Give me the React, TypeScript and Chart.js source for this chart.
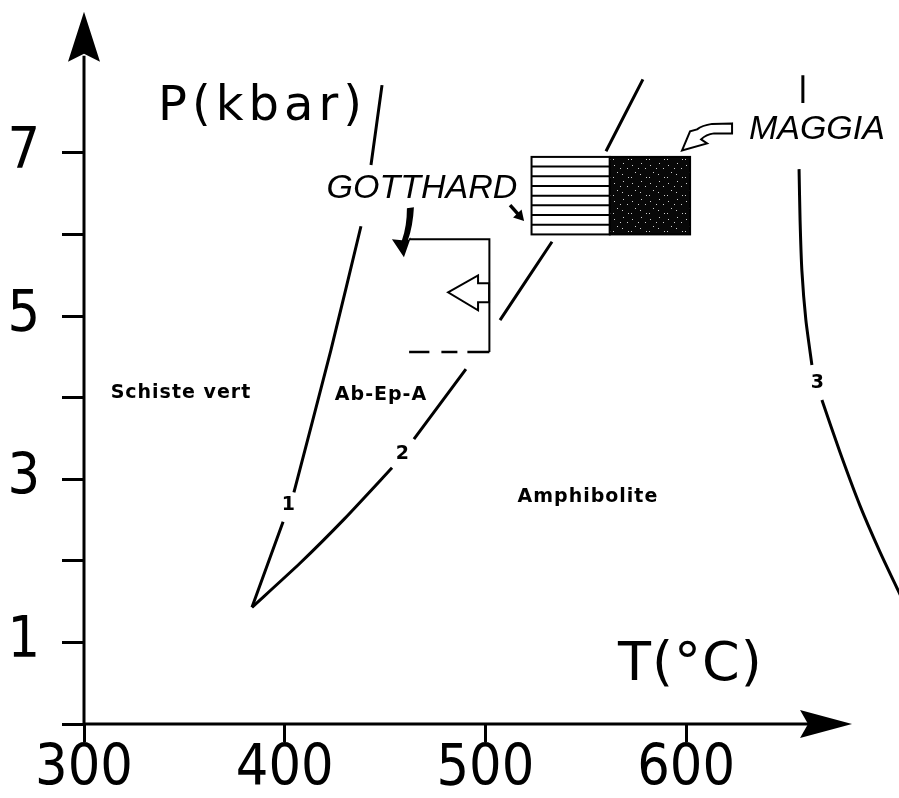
import React, { useEffect, useRef } from 'react';
import { Chart, registerables } from 'chart.js';

Chart.register(...registerables);

// ---- axes ----
const T_MIN = 300;
const T_MAX = 706.1;
const P_MIN = 0;
const P_MAX = 8.873;
const T_AXIS_END = 682.7; // arrow tip of the T axis
const P_AXIS_END = 8.73; // arrow tip of the P axis
const xTickValues = [300, 400, 500, 600];
const yTickValues = [0, 1, 2, 3, 4, 5, 6, 7];
const yLabelledTicks = [1, 3, 5, 7];

// ---- reaction curves [T (°C), P (kbar)], null = gap for a label ----
const curve1 = [[383.7, 1.43], [399.2, 2.48], null, [404.6, 2.84], [423.0, 4.58], [438.0, 6.10], null, [443.0, 6.85], [448.5, 7.83]];
const curve2 = [[383.7, 1.43], [407.6, 1.97], [430.0, 2.52], [453.5, 3.14], null, [464.4, 3.49], [490.3, 4.35], null, [507.3, 4.95], [533.2, 5.91], null, [560.1, 7.02], [578.5, 7.90]];
const curve3 = [[658.2, 7.95], [658.2, 7.61], null, [656.3, 6.80], [656.8, 6.18], [657.7, 5.56], [659.7, 4.95], [662.7, 4.40], null, [667.7, 3.97], [676.7, 3.33], [686.6, 2.68], [696.6, 2.11], [705.6, 1.64], [709.1, 1.46]];

// ---- P-T boxes ----
const gotthardBoxT = [523, 562];
const maggiaBoxT = [562, 602];
const boxP = [6.0, 6.95];
const gotthardPathT = [462, 502];
const gotthardPathP = [4.56, 5.94];

// ---- labels ----
const regionLabels = ['Schiste vert', 'Ab-Ep-A', 'Amphibolite'];
const regionLabelT = [348.3, 448.0, 551.1];
const regionLabelP = [4.06, 4.03, 2.78];
const curveNumbers = ['1', '2', '3'];
const curveNumberT = [402.1, 458.9, 665.7];
const curveNumberP = [2.68, 3.31, 4.18];
const placeNames = ['GOTTHARD', 'MAGGIA'];
const placeNameT = [468.4, 665.2];
const placeNameP = [6.56, 7.29];
const axisTitles = ['P(kbar)', 'T(°C)'];
const axisTitleT = [336.9, 566.1];
const axisTitleP = [7.40, 0.54];

// ---- arrow anchors [T, P] ----
const gotthardCurvedArrow = [462.4, 6.32];
const gotthardSmallArrow = [512.3, 6.36];
const gotthardShiftArrow = [481.4, 5.29];
const maggiaArrow = [598.0, 7.03];

const toPoints = (arr) => arr.map((p) => (p ? { x: p[0], y: p[1] } : { x: NaN, y: NaN }));

function makeSpecklePattern(ctx) {
  const c = document.createElement('canvas');
  c.width = 18;
  c.height = 18;
  const g = c.getContext('2d');
  g.fillStyle = '#080808';
  g.fillRect(0, 0, 18, 18);
  g.fillStyle = '#d0d0d0';
  const dots = [[2, 3], [11, 1], [15, 6], [5, 10], [10, 12], [16, 15], [1, 15], [8, 6]];
  dots.forEach(([x, y]) => g.fillRect(x, y, 1, 1));
  return ctx.createPattern(c, 'repeat');
}

const decorPlugin = {
  id: 'decor',
  afterDatasetsDraw(chart) {
    const ctx = chart.ctx;
    const xs = chart.scales.x;
    const ys = chart.scales.y;
    const X = (t) => xs.getPixelForValue(t);
    const Y = (p) => ys.getPixelForValue(p);
    ctx.save();
    ctx.strokeStyle = '#000';
    ctx.fillStyle = '#000';
    ctx.lineJoin = 'miter';

    // axes with arrows
    const x0 = X(T_MIN);
    const y0 = Y(P_MIN);
    const yTop = Y(P_AXIS_END);
    const xEnd = X(T_AXIS_END);
    ctx.lineWidth = 3;
    ctx.beginPath();
    ctx.moveTo(x0, y0 + 1);
    ctx.lineTo(x0, yTop + 44);
    ctx.stroke();
    ctx.beginPath();
    ctx.moveTo(x0, yTop);
    ctx.lineTo(x0 + 16, yTop + 50);
    ctx.lineTo(x0, yTop + 42);
    ctx.lineTo(x0 - 16, yTop + 50);
    ctx.closePath();
    ctx.fill();
    ctx.beginPath();
    ctx.moveTo(x0 - 1, y0);
    ctx.lineTo(xEnd - 44, y0);
    ctx.stroke();
    ctx.beginPath();
    ctx.moveTo(xEnd, y0);
    ctx.lineTo(xEnd - 52, y0 - 14);
    ctx.lineTo(xEnd - 44, y0);
    ctx.lineTo(xEnd - 52, y0 + 14);
    ctx.closePath();
    ctx.fill();

    // Gotthard hatched box
    const gx1 = X(gotthardBoxT[0]);
    const gx2 = X(gotthardBoxT[1]);
    const by1 = Y(boxP[1]);
    const by2 = Y(boxP[0]);
    ctx.fillStyle = '#fff';
    ctx.fillRect(gx1, by1, gx2 - gx1, by2 - by1);
    ctx.lineWidth = 2;
    ctx.strokeStyle = '#000';
    for (let k = 1; k < 8; k++) {
      const yy = by1 + (k * (by2 - by1)) / 8;
      ctx.beginPath();
      ctx.moveTo(gx1, yy);
      ctx.lineTo(gx2, yy);
      ctx.stroke();
    }
    ctx.strokeRect(gx1, by1, gx2 - gx1, by2 - by1);

    // Maggia speckled box
    const mx1 = X(maggiaBoxT[0]);
    const mx2 = X(maggiaBoxT[1]);
    ctx.fillStyle = makeSpecklePattern(ctx) || '#111';
    ctx.fillRect(mx1, by1, mx2 - mx1, by2 - by1);
    ctx.strokeRect(mx1, by1, mx2 - mx1, by2 - by1);
    ctx.fillStyle = '#000';

    // Gotthard retrograde path (open box, dashed bottom)
    const px1 = X(gotthardPathT[0]);
    const px2 = X(gotthardPathT[1]);
    const py1 = Y(gotthardPathP[1]);
    const py2 = Y(gotthardPathP[0]);
    ctx.lineWidth = 2;
    ctx.beginPath();
    ctx.moveTo(px1, py1);
    ctx.lineTo(px2, py1);
    ctx.lineTo(px2, py2);
    ctx.stroke();
    ctx.lineWidth = 2.5;
    ctx.setLineDash([22, 10, 16, 12]);
    ctx.beginPath();
    ctx.moveTo(px2, py2);
    ctx.lineTo(px1, py2);
    ctx.stroke();
    ctx.setLineDash([]);

    // hollow left arrow inside the path box
    {
      const ax = X(gotthardShiftArrow[0]);
      const ay = Y(gotthardShiftArrow[1]);
      const pts = [[0, 0], [30, -17], [30, -9], [41, -9], [41, 10], [30, 10], [30, 18]];
      ctx.beginPath();
      pts.forEach(([dx, dy], i) => (i ? ctx.lineTo(ax + dx, ay + dy) : ctx.moveTo(ax + dx, ay + dy)));
      ctx.closePath();
      ctx.fillStyle = '#fff';
      ctx.fill();
      ctx.lineWidth = 2;
      ctx.stroke();
      ctx.fillStyle = '#000';
    }

    // curved black arrow below GOTTHARD
    {
      const ax = X(gotthardCurvedArrow[0]);
      const ay = Y(gotthardCurvedArrow[1]);
      ctx.beginPath();
      ctx.moveTo(ax - 3, ay);
      ctx.lineTo(ax + 4, ay - 1);
      ctx.quadraticCurveTo(ax + 3, ay + 18, ax - 2, ay + 32);
      ctx.lineTo(ax + 1, ay + 29);
      ctx.lineTo(ax - 6, ay + 49);
      ctx.lineTo(ax - 18, ay + 31);
      ctx.lineTo(ax - 8, ay + 32);
      ctx.quadraticCurveTo(ax - 3, ay + 18, ax - 3, ay);
      ctx.closePath();
      ctx.fill();
    }

    // small arrow pointing to the hatched box
    {
      const sx = X(gotthardSmallArrow[0]);
      const sy = Y(gotthardSmallArrow[1]);
      ctx.lineWidth = 3.5;
      ctx.beginPath();
      ctx.moveTo(sx, sy);
      ctx.lineTo(sx + 8, sy + 9);
      ctx.stroke();
      ctx.beginPath();
      ctx.moveTo(sx + 14, sy + 16);
      ctx.lineTo(sx + 3, sy + 12.5);
      ctx.lineTo(sx + 11.5, sy + 4.5);
      ctx.closePath();
      ctx.fill();
    }

    // hollow curved arrow from MAGGIA
    {
      const ax = X(maggiaArrow[0]);
      const ay = Y(maggiaArrow[1]);
      ctx.lineWidth = 2;
      ctx.beginPath();
      ctx.moveTo(ax + 50, ay - 27);
      ctx.lineTo(ax + 30, ay - 26.5);
      ctx.quadraticCurveTo(ax + 20, ay - 25, ax + 15, ay - 21);
      ctx.lineTo(ax + 8, ay - 19);
      ctx.lineTo(ax, ay);
      ctx.lineTo(ax + 25, ay - 7);
      ctx.lineTo(ax + 19, ay - 11);
      ctx.quadraticCurveTo(ax + 24, ay - 16, ax + 32, ay - 17);
      ctx.lineTo(ax + 50, ay - 17);
      ctx.closePath();
      ctx.fillStyle = '#fff';
      ctx.fill();
      ctx.stroke();
      ctx.fillStyle = '#000';
    }

    // texts
    ctx.textAlign = 'center';
    ctx.textBaseline = 'middle';
    ctx.font = 'bold 19px "DejaVu Sans"';
    ctx.letterSpacing = '1px';
    regionLabels.forEach((s, i) => ctx.fillText(s, X(regionLabelT[i]), Y(regionLabelP[i])));
    curveNumbers.forEach((s, i) => ctx.fillText(s, X(curveNumberT[i]), Y(curveNumberP[i])));

    ctx.letterSpacing = '0px';
    ctx.font = 'italic 34px "Liberation Sans"';
    placeNames.forEach((s, i) => ctx.fillText(s, X(placeNameT[i]), Y(placeNameP[i])));

    ctx.textAlign = 'left';
    ctx.textBaseline = 'alphabetic';
    ctx.font = '48px "DejaVu Sans"';
    ctx.letterSpacing = '5px';
    ctx.fillText(axisTitles[0], X(axisTitleT[0]), Y(axisTitleP[0]));
    ctx.font = '54px "DejaVu Sans"';
    ctx.letterSpacing = '1px';
    ctx.fillText(axisTitles[1], X(axisTitleT[1]), Y(axisTitleP[1]));
    ctx.restore();
  },
};

const curveStyle = {
  showLine: true,
  borderColor: '#000',
  borderWidth: 3,
  pointRadius: 0,
  spanGaps: false,
  tension: 0.2,
  fill: false,
};

const tickFont = { family: '"Liberation Sans Narrow", "DejaVu Sans Condensed", sans-serif', size: 57, lineHeight: 1 };

export default function App() {
  const ref = useRef(null);
  useEffect(() => {
    document.body.style.margin = '0';
    const chart = new Chart(ref.current, {
      type: 'scatter',
      data: {
        datasets: [
          { label: 'curve 1', data: toPoints(curve1), ...curveStyle },
          { label: 'curve 2', data: toPoints(curve2), ...curveStyle },
          { label: 'curve 3', data: toPoints(curve3), ...curveStyle },
        ],
      },
      options: {
        responsive: false,
        animation: false,
        events: [],
        layout: { padding: 0 },
        plugins: { legend: { display: false }, tooltip: { enabled: false }, title: { display: false } },
        scales: {
          x: {
            type: 'linear',
            min: T_MIN,
            max: T_MAX,
            border: { display: false },
            grid: { display: true, drawOnChartArea: false, drawTicks: true, tickLength: 18, tickWidth: 3, tickColor: '#000' },
            ticks: { color: '#000', font: tickFont, padding: 0, maxRotation: 0, autoSkip: false, callback: (v) => String(v) },
            afterBuildTicks: (s) => { s.ticks = xTickValues.map((v) => ({ value: v })); },
            afterFit: (s) => { s.height = 74; s.paddingLeft = 0; s.paddingRight = 0; },
          },
          y: {
            type: 'linear',
            min: P_MIN,
            max: P_MAX,
            border: { display: false },
            grid: { display: true, drawOnChartArea: false, drawTicks: true, tickLength: 22, tickWidth: 3, tickColor: '#000' },
            ticks: {
              color: '#000', font: tickFont, padding: 22, autoSkip: false,
              callback: (v) => (yLabelledTicks.includes(v) ? String(v) : ''),
            },
            afterBuildTicks: (s) => { s.ticks = yTickValues.map((v) => ({ value: v })); },
            afterFit: (s) => { s.width = 84; s.paddingTop = 0; s.paddingBottom = 0; },
          },
        },
      },
      plugins: [decorPlugin],
    });
    return () => chart.destroy();
  }, []);
  return (
    <div style={{ position: 'fixed', left: 0, top: 0, width: 899, height: 798, background: '#fff' }}>
      <canvas ref={ref} width={899} height={798} />
    </div>
  );
}
